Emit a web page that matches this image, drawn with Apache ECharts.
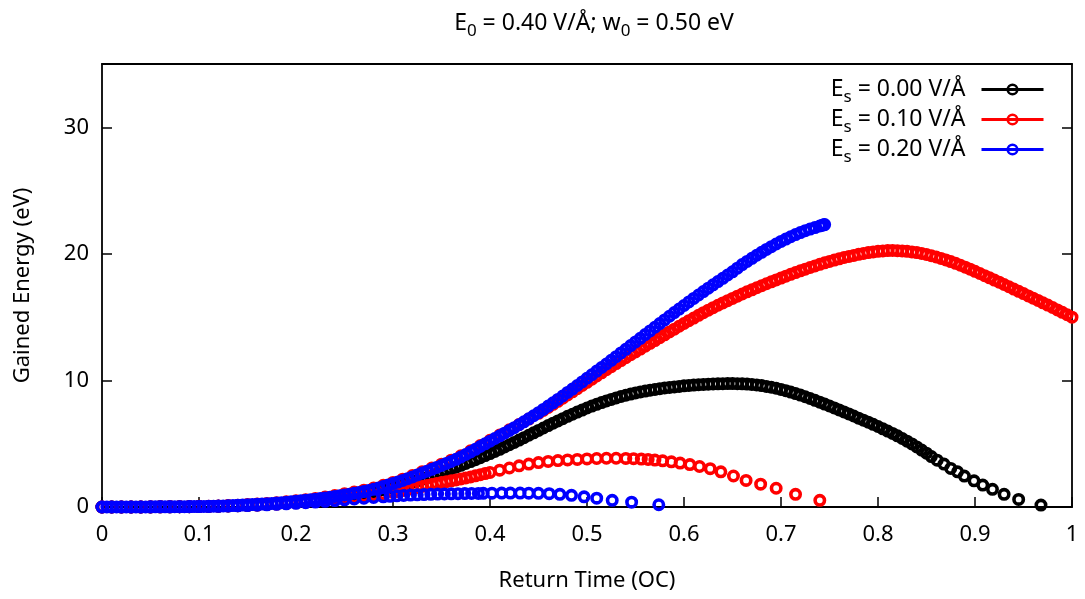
<!DOCTYPE html>
<html>
<head>
<meta charset="utf-8">
<title>Gained Energy vs Return Time</title>
<script src="https://cdn.jsdelivr.net/npm/echarts@6/dist/echarts.min.js"></script>
<style>
  html, body { margin: 0; padding: 0; background: #fff; }
  #chart { width: 1085px; height: 599px; }
</style>
</head>
<body>
<div id="chart"></div>
<script>
// 坐标轴刻度
const xTicks = { min: 0, max: 1, interval: 0.1 };
const yTicks = { min: 0, max: 35, interval: 10 };

// 图例里的静电场数值 (V/Å)
const fieldValues = ['0.00', '0.10', '0.20'];
const seriesColors = ['#000000', '#ff0000', '#0000ff'];

// Es = 0.00 V/Å
const blackPts = [
  [0,0],[0.01,0],[0.02,0],[0.03,0],[0.04,0],[0.05,0],[0.06,0.01],[0.07,0.01],[0.08,0.02],[0.09,0.02],
  [0.1,0.03],[0.11,0.04],[0.12,0.06],[0.13,0.08],[0.14,0.1],[0.15,0.13],[0.16,0.16],[0.17,0.2],[0.18,0.25],[0.19,0.3],
  [0.2,0.36],[0.21,0.43],[0.22,0.5],[0.23,0.58],[0.24,0.68],[0.25,0.8],[0.255,0.86],[0.26,0.92],[0.265,0.98],[0.27,1.05],
  [0.275,1.12],[0.28,1.2],[0.285,1.28],[0.29,1.37],[0.295,1.46],[0.3,1.55],[0.305,1.65],[0.31,1.75],[0.315,1.86],[0.32,1.97],
  [0.325,2.08],[0.33,2.2],[0.335,2.32],[0.34,2.45],[0.345,2.58],[0.35,2.72],[0.355,2.86],[0.36,3.0],[0.365,3.14],[0.37,3.29],
  [0.375,3.44],[0.38,3.59],[0.385,3.74],[0.39,3.9],[0.395,4.06],[0.4,4.22],[0.405,4.39],[0.41,4.56],[0.415,4.74],[0.42,4.92],
  [0.425,5.1],[0.43,5.29],[0.435,5.48],[0.44,5.67],[0.445,5.86],[0.45,6.05],[0.455,6.24],[0.46,6.43],[0.465,6.62],[0.47,6.8],
  [0.475,6.98],[0.48,7.16],[0.485,7.33],[0.49,7.5],[0.495,7.66],[0.5,7.82],[0.505,7.97],[0.51,8.11],[0.515,8.25],[0.52,8.38],
  [0.525,8.5],[0.53,8.62],[0.535,8.73],[0.54,8.83],[0.545,8.92],[0.55,9.01],[0.555,9.09],[0.56,9.16],[0.565,9.23],[0.57,9.29],
  [0.575,9.35],[0.58,9.4],[0.585,9.45],[0.59,9.49],[0.595,9.53],[0.6,9.57],[0.605,9.6],[0.61,9.63],[0.615,9.66],[0.62,9.68],
  [0.625,9.7],[0.63,9.72],[0.635,9.73],[0.64,9.74],[0.645,9.75],[0.65,9.75],[0.655,9.74],[0.66,9.73],[0.665,9.71],[0.67,9.68],
  [0.675,9.64],[0.68,9.59],[0.685,9.53],[0.69,9.46],[0.695,9.38],[0.7,9.29],[0.705,9.19],[0.71,9.08],[0.715,8.96],[0.72,8.84],
  [0.725,8.71],[0.73,8.57],[0.735,8.43],[0.74,8.28],[0.745,8.13],[0.75,7.98],[0.755,7.83],[0.76,7.67],[0.765,7.51],[0.77,7.35],
  [0.775,7.19],[0.78,7.02],[0.785,6.86],[0.79,6.7],[0.795,6.53],[0.8,6.36],[0.805,6.18],[0.81,6.0],[0.815,5.81],[0.82,5.62],
  [0.825,5.41],[0.83,5.2],[0.835,4.98],[0.84,4.75],[0.845,4.5],[0.85,4.25],[0.855,3.98],[0.861,3.7],[0.868,3.39],[0.875,3.05],
  [0.882,2.78],[0.889,2.44],[0.899,2.07],[0.908,1.73],[0.918,1.4],[0.93,1.0],[0.945,0.6],[0.968,0.15]
];

// Es = 0.10 V/Å 上支
const redUpper = [
  [0,0],[0.01,0],[0.02,0],[0.03,0],[0.04,0],[0.05,0.01],[0.06,0.01],[0.07,0.02],[0.08,0.02],[0.09,0.03],
  [0.1,0.05],[0.11,0.06],[0.12,0.08],[0.13,0.11],[0.14,0.14],[0.15,0.19],[0.16,0.23],[0.17,0.28],[0.18,0.34],[0.19,0.41],
  [0.2,0.49],[0.21,0.58],[0.22,0.68],[0.23,0.79],[0.24,0.91],[0.25,1.04],[0.26,1.18],[0.27,1.33],[0.28,1.5],[0.29,1.71],
  [0.3,1.94],[0.31,2.2],[0.32,2.48],[0.33,2.78],[0.34,3.08],[0.35,3.38],[0.36,3.7],[0.37,4.05],[0.38,4.44],[0.39,4.86],
  [0.4,5.27],[0.41,5.68],[0.42,6.1],[0.43,6.52],[0.44,6.95],
  [0.45,7.4],[0.455,7.63],[0.46,7.87],[0.465,8.11],[0.47,8.35],[0.475,8.6],[0.48,8.85],[0.485,9.1],[0.49,9.35],[0.495,9.6],
  [0.5,9.85],[0.505,10.1],[0.51,10.35],[0.515,10.6],[0.52,10.85],[0.525,11.09],[0.53,11.33],[0.535,11.57],[0.54,11.8],[0.545,12.03],
  [0.55,12.25],[0.555,12.48],[0.56,12.7],[0.565,12.93],[0.57,13.15],[0.575,13.38],[0.58,13.6],[0.585,13.83],[0.59,14.05],[0.595,14.28],
  [0.6,14.5],[0.605,14.72],[0.61,14.93],[0.615,15.14],[0.62,15.35],[0.625,15.55],[0.63,15.75],[0.635,15.94],[0.64,16.12],[0.645,16.3],
  [0.65,16.48],[0.655,16.66],[0.66,16.83],[0.665,17.0],[0.67,17.16],[0.675,17.32],[0.68,17.48],[0.685,17.64],[0.69,17.79],[0.695,17.94],
  [0.7,18.09],[0.705,18.24],[0.71,18.38],[0.715,18.52],[0.72,18.66],[0.725,18.79],[0.73,18.92],[0.735,19.05],[0.74,19.17],[0.745,19.29],
  [0.75,19.4],[0.755,19.51],[0.76,19.61],[0.765,19.71],[0.77,19.8],[0.775,19.88],[0.78,19.96],[0.785,20.03],[0.79,20.1],[0.795,20.15],
  [0.8,20.2],[0.805,20.23],[0.81,20.26],[0.815,20.27],[0.82,20.25],[0.825,20.23],[0.83,20.2],[0.835,20.15],[0.84,20.1],[0.845,20.03],
  [0.85,19.95],[0.855,19.85],[0.86,19.75],[0.865,19.64],[0.87,19.52],[0.875,19.39],[0.88,19.25],[0.885,19.1],[0.89,18.95],[0.895,18.79],
  [0.9,18.62],[0.905,18.45],[0.91,18.28],[0.915,18.11],[0.92,17.93],[0.925,17.76],[0.93,17.58],[0.935,17.4],[0.94,17.22],[0.945,17.04],
  [0.95,16.86],[0.955,16.68],[0.96,16.5],[0.965,16.32],[0.97,16.13],[0.975,15.95],[0.98,15.76],[0.985,15.57],[0.99,15.38],[0.995,15.19],
  [1,15.0]
];

// Es = 0.10 V/Å 下支
const redLower = [
  [0,0],[0.01,0],[0.02,0],[0.03,0],[0.04,0],[0.05,0],[0.06,0.01],[0.07,0.01],[0.08,0.02],[0.09,0.02],
  [0.1,0.03],[0.11,0.04],[0.12,0.06],[0.13,0.08],[0.14,0.1],[0.15,0.12],[0.16,0.15],[0.17,0.19],[0.18,0.23],[0.19,0.28],
  [0.2,0.33],[0.21,0.39],[0.22,0.46],[0.23,0.53],[0.24,0.61],[0.25,0.69],[0.26,0.77],[0.27,0.86],[0.28,0.95],[0.29,1.05],
  [0.3,1.15],[0.305,1.22],[0.31,1.3],[0.315,1.38],[0.32,1.46],[0.325,1.54],[0.33,1.62],[0.335,1.7],[0.34,1.78],[0.345,1.86],
  [0.35,1.93],[0.355,2.0],[0.36,2.07],[0.365,2.14],[0.37,2.21],[0.375,2.29],[0.38,2.37],[0.385,2.46],[0.39,2.55],[0.395,2.64],
  [0.4,2.73],[0.41,2.91],[0.42,3.08],[0.43,3.25],[0.44,3.39],[0.45,3.51],[0.46,3.6],[0.47,3.67],[0.48,3.72],[0.49,3.76],
  [0.5,3.8],[0.51,3.83],[0.52,3.85],[0.53,3.85],[0.54,3.84],[0.548,3.82],[0.556,3.79],[0.563,3.76],[0.57,3.71],[0.578,3.65],
  [0.587,3.57],[0.596,3.47],[0.606,3.35],[0.616,3.2],[0.627,3.03],[0.638,2.78],[0.651,2.45],[0.664,2.1],[0.679,1.8],[0.695,1.48],
  [0.715,1.0],[0.74,0.53]
];

// Es = 0.20 V/Å 上支
const blueUpper = [
  [0,0],[0.005,0],[0.01,0],[0.015,0],[0.02,0],[0.025,0],[0.03,0],[0.035,0],[0.04,0],[0.045,0],
  [0.05,0.01],[0.055,0.01],[0.06,0.01],[0.065,0.01],[0.07,0.01],[0.075,0.02],[0.08,0.02],[0.085,0.02],[0.09,0.03],[0.095,0.03],
  [0.1,0.04],[0.105,0.04],[0.11,0.05],[0.115,0.06],[0.12,0.07],[0.125,0.08],[0.13,0.1],[0.135,0.11],[0.14,0.13],[0.145,0.15],
  [0.15,0.17],[0.155,0.19],[0.16,0.21],[0.165,0.23],[0.17,0.26],[0.175,0.28],[0.18,0.31],[0.185,0.34],[0.19,0.37],[0.195,0.41],
  [0.2,0.45],[0.205,0.49],[0.21,0.53],[0.215,0.57],[0.22,0.62],[0.225,0.67],[0.23,0.72],[0.235,0.77],[0.24,0.83],[0.245,0.89],
  [0.25,0.95],[0.255,1.01],[0.26,1.08],[0.265,1.15],[0.27,1.22],[0.275,1.31],[0.28,1.4],[0.285,1.51],[0.29,1.62],[0.295,1.73],
  [0.3,1.85],[0.305,1.97],[0.31,2.1],[0.315,2.24],[0.32,2.38],[0.325,2.53],[0.33,2.68],[0.335,2.83],[0.34,2.98],[0.345,3.13],
  [0.35,3.28],[0.355,3.44],[0.36,3.6],[0.365,3.77],[0.37,3.95],[0.375,4.15],[0.38,4.35],[0.385,4.56],[0.39,4.78],[0.395,4.99],
  [0.4,5.2],[0.405,5.41],[0.41,5.62],[0.415,5.83],[0.42,6.05],[0.425,6.27],[0.43,6.5],[0.435,6.73],[0.44,6.97],[0.445,7.21],
  [0.45,7.45],[0.455,7.71],[0.46,7.97],[0.465,8.23],[0.47,8.5],[0.475,8.77],[0.48,9.05],[0.485,9.32],[0.49,9.6],[0.495,9.88],
  [0.5,10.17],[0.505,10.45],[0.51,10.74],[0.515,11.02],[0.52,11.3],[0.525,11.59],[0.53,11.88],[0.535,12.17],[0.54,12.46],[0.545,12.75],
  [0.55,13.04],[0.555,13.33],[0.56,13.62],[0.565,13.91],[0.57,14.2],[0.575,14.49],[0.58,14.78],[0.585,15.07],[0.59,15.36],[0.595,15.64],
  [0.6,15.92],[0.605,16.2],[0.61,16.48],[0.615,16.75],[0.62,17.02],[0.625,17.29],[0.63,17.55],[0.635,17.81],[0.64,18.07],[0.645,18.33],
  [0.65,18.58],[0.655,18.87],[0.66,19.15],[0.665,19.4],[0.67,19.65],[0.675,19.89],[0.68,20.12],[0.685,20.35],[0.69,20.57],[0.695,20.78],
  [0.7,20.98],[0.705,21.17],[0.71,21.35],[0.715,21.52],[0.72,21.68],[0.725,21.83],[0.73,21.96],[0.735,22.08],[0.74,22.2],[0.742,22.25],
  [0.744,22.29],[0.745,22.31]
];

// Es = 0.20 V/Å 下支
const blueLower = [
  [0,0],[0.01,0],[0.02,0],[0.03,0],[0.04,0],[0.05,0],[0.06,0.01],[0.07,0.01],[0.08,0.02],[0.09,0.02],
  [0.1,0.03],[0.11,0.04],[0.12,0.05],[0.13,0.07],[0.14,0.09],[0.15,0.11],[0.16,0.14],[0.17,0.17],[0.18,0.21],[0.19,0.25],
  [0.2,0.29],[0.21,0.34],[0.22,0.39],[0.23,0.45],[0.24,0.51],[0.25,0.57],[0.26,0.63],[0.27,0.69],[0.28,0.75],[0.29,0.8],
  [0.297,0.84],[0.304,0.88],[0.311,0.91],[0.318,0.94],[0.325,0.96],[0.332,0.98],[0.339,1.0],[0.346,1.02],[0.353,1.03],[0.36,1.04],
  [0.367,1.05],[0.374,1.06],[0.381,1.07],[0.388,1.07],[0.393,1.08],[0.402,1.09],[0.412,1.1],[0.421,1.1],[0.431,1.1],[0.44,1.09],
  [0.45,1.08],[0.461,1.05],[0.472,1.0],[0.484,0.92],[0.497,0.8],[0.51,0.7],[0.526,0.53],[0.546,0.38],[0.574,0.18]
];

const FONT = 'Noto Sans';
const richText = {
  n: { fontFamily: FONT, fontSize: 23, fontWeight: 'normal', color: '#000', lineHeight: 27 },
  sub: { fontFamily: FONT, fontSize: 17, fontWeight: 'normal', color: '#000', lineHeight: 19, verticalAlign: 'bottom', padding: [0, 0, -3, 0] }
};

const legendNames = fieldValues.map(v => 'Es = ' + v + ' V/Å');

// 两支曲线共用一个名字，图例只出现一次
function pointSeries(idx, data) {
  const c = seriesColors[idx];
  return {
    name: legendNames[idx],
    type: 'line',
    data: data,
    symbol: 'circle',
    symbolSize: 9.4,
    showSymbol: true,
    showAllSymbol: true,
    color: c,
    lineStyle: { color: c, width: 3, opacity: 0 },
    itemStyle: { color: 'rgba(0,0,0,0)', borderColor: c, borderWidth: 3.6 },
    emphasis: { disabled: true },
    silent: true,
    animation: false
  };
}

const axisLineStyle = { show: true, onZero: false, lineStyle: { color: '#000', width: 1.8 } };
const tickStyle = { show: true, inside: true, length: 10, lineStyle: { color: '#000', width: 1.5 } };

const chart = echarts.init(document.getElementById('chart'), null, { renderer: 'canvas' });
chart.setOption({
  animation: false,
  backgroundColor: '#fff',
  title: {
    text: '{n|E}{sub|0}{n| = 0.40 V/Å; w}{sub|0}{n| = 0.50 eV}',
    left: 589,
    top: 5,
    textAlign: 'center',
    textStyle: { fontWeight: 'normal', rich: richText }
  },
  grid: { left: 102, right: 13, top: 64, bottom: 92 },
  legend: {
    data: legendNames,
    orient: 'vertical',
    align: 'right',
    right: 40,
    top: 78,
    padding: 0,
    itemGap: 2,
    itemWidth: 62,
    itemHeight: 12,
    selectedMode: false,
    formatter: name => '{n|E}{sub|s}{n|' + name.slice(2) + '}',
    textStyle: { rich: richText, padding: [0, 11, 0, 0] },
    lineStyle: { width: 3, opacity: 1 },
    itemStyle: { borderWidth: 2.5 }
  },
  xAxis: [
    {
      type: 'value',
      min: xTicks.min, max: xTicks.max, interval: xTicks.interval,
      name: 'Return Time (OC)',
      nameLocation: 'middle',
      nameGap: 63,
      nameTextStyle: { fontFamily: FONT, fontSize: 22, color: '#000' },
      axisLine: axisLineStyle,
      axisTick: tickStyle,
      axisLabel: { fontFamily: FONT, fontSize: 22, color: '#000', margin: 17 },
      splitLine: { show: false }
    },
    {
      type: 'value', position: 'top',
      min: xTicks.min, max: xTicks.max, interval: xTicks.interval,
      axisLine: axisLineStyle,
      axisTick: { show: false },
      axisLabel: { show: false },
      splitLine: { show: false }
    }
  ],
  yAxis: [
    {
      type: 'value',
      min: yTicks.min, max: yTicks.max, interval: yTicks.interval,
      name: 'Gained Energy (eV)',
      nameLocation: 'middle',
      nameGap: 68,
      nameTextStyle: { fontFamily: FONT, fontSize: 22, color: '#000' },
      axisLine: axisLineStyle,
      axisTick: tickStyle,
      axisLabel: { fontFamily: FONT, fontSize: 22, color: '#000', margin: 13, showMaxLabel: false },
      splitLine: { show: false }
    },
    {
      type: 'value', position: 'right',
      min: yTicks.min, max: yTicks.max, interval: yTicks.interval,
      axisLine: axisLineStyle,
      axisTick: tickStyle,
      axisLabel: { show: false },
      splitLine: { show: false }
    }
  ],
  series: [
    pointSeries(0, blackPts),
    pointSeries(1, redUpper),
    pointSeries(1, redLower),
    pointSeries(2, blueUpper),
    pointSeries(2, blueLower)
  ]
});
</script>
</body>
</html>
